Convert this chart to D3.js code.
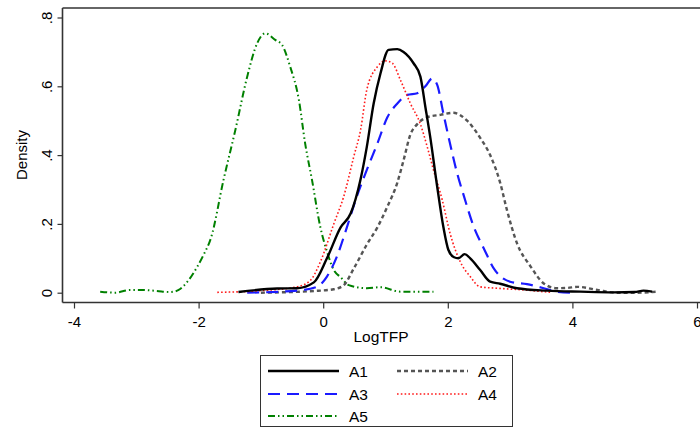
<!DOCTYPE html>
<html><head><meta charset="utf-8">
<script src="https://cdn.jsdelivr.net/npm/d3@7"></script>
<style>body{margin:0;background:#fff}svg{display:block}text{font-family:"Liberation Sans",Arial,sans-serif}</style>
</head><body><svg id="c" width="700" height="430"></svg>
<script>
const xTicks = [-4,-2,0,2,4,6];
const xTickLabels = ["-4","-2","0","2","4","6"];
const yTicks = [0,0.2,0.4,0.6,0.8];
const yTickLabels = ["0",".2",".4",".6",".8"];
const seriesNames = ["A1","A2","A3","A4","A5"];

const a1x = [-1.36,-0.74,-0.42,-0.15,0.06,0.28,0.44,0.60,0.70,0.81,0.92,1.05,1.19,1.29,1.45,1.56,1.64,1.72,1.83,1.93,2.01,2.10,2.17,2.27,2.36,2.52,2.68,2.84,3.11,3.59,4.13,4.66,5.0,5.14,5.28];
const a1y = [0.002,0.012,0.013,0.03,0.10,0.19,0.23,0.33,0.424,0.55,0.638,0.706,0.708,0.70,0.667,0.628,0.54,0.45,0.308,0.19,0.124,0.103,0.10,0.112,0.10,0.066,0.032,0.026,0.013,0.006,0.003,0.001,0.002,0.006,0.003];

const a2x = [-1.0,-0.15,0.17,0.33,0.49,0.70,0.87,1.03,1.19,1.29,1.40,1.51,1.67,1.88,2.09,2.31,2.52,2.68,2.84,2.95,3.11,3.33,3.54,3.75,3.92,4.08,4.40,4.72,5.04,5.36];
const a2y = [0.0,0.005,0.01,0.022,0.07,0.14,0.19,0.25,0.32,0.385,0.46,0.49,0.51,0.517,0.523,0.50,0.45,0.40,0.32,0.24,0.144,0.076,0.027,0.013,0.014,0.017,0.008,0.0,0.0,0.003];

const a3x = [-1.22,-0.42,-0.1,0.06,0.22,0.38,0.54,0.70,0.87,1.03,1.19,1.35,1.51,1.64,1.75,1.83,1.93,2.04,2.15,2.26,2.42,2.58,2.74,2.90,3.0,3.27,3.54,3.75,4.02];
const a3y = [0,0.006,0.017,0.047,0.105,0.19,0.28,0.357,0.434,0.51,0.55,0.575,0.58,0.60,0.623,0.604,0.52,0.43,0.347,0.28,0.19,0.128,0.07,0.04,0.032,0.025,0.013,0.003,0.0];

const a4x = [-1.70,-1.0,-0.42,-0.2,-0.045,0.17,0.33,0.49,0.60,0.70,0.87,1.0,1.11,1.24,1.40,1.56,1.67,1.77,1.91,2.04,2.20,2.36,2.52,2.79,3.22,3.65];
const a4y = [0.001,0.006,0.017,0.037,0.09,0.20,0.28,0.395,0.473,0.59,0.657,0.674,0.667,0.618,0.55,0.49,0.424,0.357,0.27,0.17,0.09,0.047,0.017,0.013,0.008,0.001];

const a5x = [-3.58,-3.34,-3.1,-2.91,-2.67,-2.45,-2.32,-2.18,-2.02,-1.92,-1.80,-1.60,-1.41,-1.22,-1.06,-0.93,-0.77,-0.66,-0.53,-0.39,-0.29,-0.18,-0.045,0.06,0.17,0.28,0.41,0.70,0.92,1.24,1.77];
const a5y = [0.003,0.0,0.008,0.008,0.005,0.002,0.008,0.032,0.076,0.11,0.16,0.328,0.473,0.628,0.725,0.754,0.735,0.72,0.657,0.56,0.434,0.328,0.19,0.12,0.066,0.045,0.022,0.013,0.016,0.003,0.003];

const styles = {
  A1:{color:"#000000", width:2.4, dash:null},
  A2:{color:"#555555", width:2.4, dash:"4,3"},
  A3:{color:"#1a1aff", width:2.2, dash:"12,7"},
  A4:{color:"#ff1a1a", width:1.6, dash:"1.6,2.2"},
  A5:{color:"#008000", width:2, dash:"7,3,1.5,3,1.5,3"}
};

const series = [
  {name:"A1", xs:a1x, ys:a1y},
  {name:"A2", xs:a2x, ys:a2y},
  {name:"A3", xs:a3x, ys:a3y},
  {name:"A4", xs:a4x, ys:a4y},
  {name:"A5", xs:a5x, ys:a5y}
];

const svg = d3.select("#c");
const x = d3.scaleLinear().domain([-4,6]).range([74,697]);
const y = d3.scaleLinear().domain([0,0.8]).range([292.7,17.5]);

const frameL = 62.5, frameT = 8, frameB = 302.5, frameR = 700;
const axisColor = "#333";

// frame lines
svg.append("line").attr("x1",frameL).attr("x2",frameR).attr("y1",frameT).attr("y2",frameT).attr("stroke",axisColor).attr("stroke-width",1.6);

// curves
const line = d3.line().x(d=>x(d[0])).y(d=>y(d[1])).curve(d3.curveMonotoneX);
const order = ["A5","A2","A3","A4","A1"];
order.forEach(n=>{
  const s = series.find(t=>t.name===n);
  const st = styles[n];
  svg.append("path").datum(s.xs.map((v,i)=>[v,s.ys[i]]))
    .attr("d",line).attr("fill","none").attr("stroke",st.color)
    .attr("stroke-width",st.width).attr("stroke-dasharray",st.dash)
    .attr("stroke-linejoin","round");
});

// y axis
const yAxis = d3.axisLeft(y).tickValues(yTicks).tickFormat((d,i)=>yTickLabels[i]).tickSize(5).tickPadding(9);
const gy = svg.append("g").attr("transform",`translate(${frameL},0)`).call(yAxis);
gy.select(".domain").attr("d",`M0,${frameT}V${frameB}`).attr("stroke",axisColor).attr("stroke-width",1.6);
gy.selectAll(".tick line").attr("stroke",axisColor).attr("stroke-width",1.2);
gy.selectAll(".tick text").attr("font-size",15).attr("fill","#000")
  .attr("text-anchor","middle").attr("dy",null).attr("x",null)
  .attr("transform","translate(-16,0) rotate(-90)").attr("dy","0.35em");

// x axis
const xAxis = d3.axisBottom(x).tickValues(xTicks).tickFormat((d,i)=>xTickLabels[i]).tickSize(6).tickPadding(8);
const gx = svg.append("g").attr("transform",`translate(0,${frameB})`).call(xAxis);
gx.select(".domain").attr("d",`M${frameL},0H${frameR}`).attr("stroke",axisColor).attr("stroke-width",1.6);
gx.selectAll(".tick line").attr("stroke",axisColor).attr("stroke-width",1.2);
gx.selectAll(".tick text").attr("font-size",15).attr("fill","#000");

// axis titles
svg.append("text").attr("transform","translate(27,155) rotate(-90)").attr("text-anchor","middle")
  .attr("font-size",15).text("Density");
svg.append("text").attr("x",381).attr("y",342).attr("text-anchor","middle")
  .attr("font-size",15.5).text("LogTFP");

// legend
const lg = svg.append("g");
lg.append("rect").attr("x",260.5).attr("y",355.5).attr("width",252).attr("height",71)
  .attr("fill","#fff").attr("stroke","#333").attr("stroke-width",1);
const legPos = {A1:[268,371],A2:[397,371],A3:[268,394],A4:[397,394],A5:[268,416]};
seriesNames.forEach(n=>{
  const [lx,ly] = legPos[n]; const st = styles[n];
  lg.append("line").attr("x1",lx).attr("x2",lx+71).attr("y1",ly).attr("y2",ly)
    .attr("stroke",st.color).attr("stroke-width",st.width).attr("stroke-dasharray",st.dash);
  lg.append("text").attr("x",lx+81).attr("y",ly).attr("dy","0.36em").attr("font-size",15.5).text(n);
});
</script></body></html>
